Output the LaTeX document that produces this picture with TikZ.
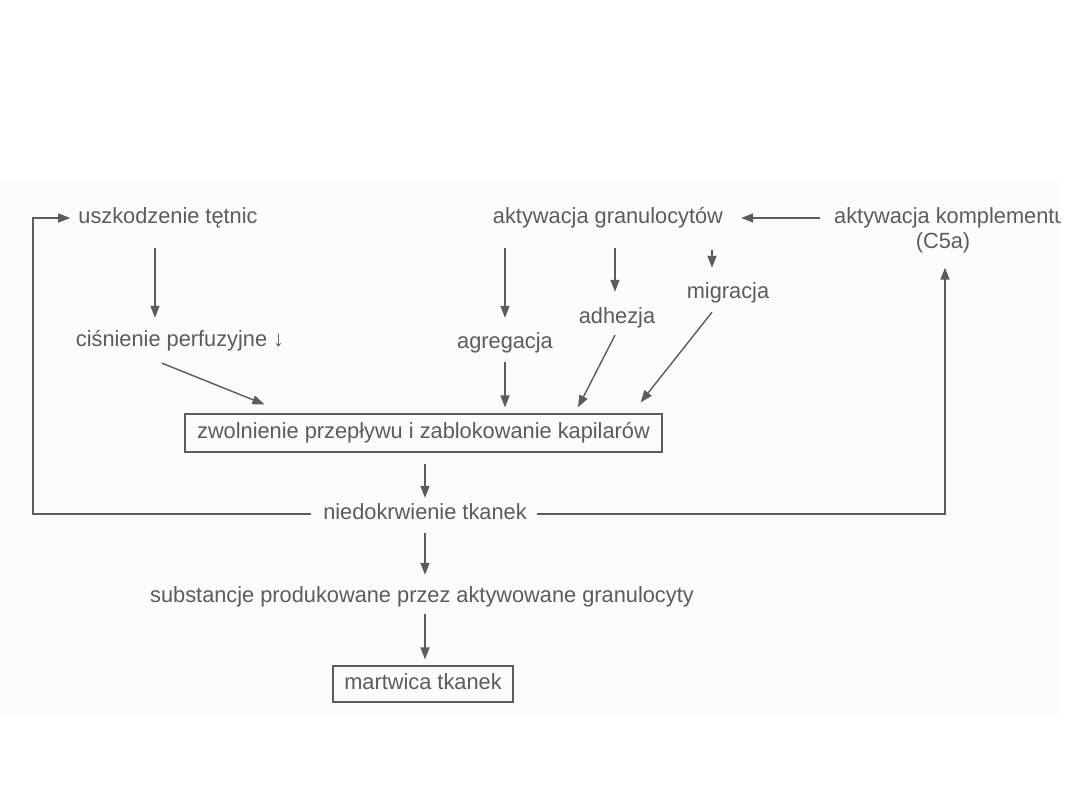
\documentclass[tikz,border=0pt]{standalone}
\usepackage{fontspec}
\setmainfont{Liberation Sans}[FakeStretch=0.99]
\usetikzlibrary{arrows.meta,calc}
\definecolor{ink}{HTML}{5C5C5C}
\definecolor{scan}{HTML}{FBFBFB}
\begin{document}
\begin{tikzpicture}[x=1pt,y=-1pt,
  lbl/.style={text=ink,font=\fontsize{22}{26}\selectfont,inner sep=2pt,text height=16pt,text depth=5pt},
  boxed/.style={lbl,draw=ink,line width=1.3pt},
  arr/.style={draw=ink,line width=1.4pt,-{Triangle[length=12pt,width=9pt]}},
  ln/.style={draw=ink,line width=1.4pt}]
\useasboundingbox (0,0) rectangle (1080,810);
\fill[scan] (0,180) rectangle (1060,715);
\begin{scope}
\clip (0,0) rectangle (1060,810);
\node[lbl,anchor=west] (akk) at (832,218) {aktywacja komplementu};
\end{scope}
\node[lbl] (usz) at (168,218) {uszkodzenie tętnic};
\node[lbl] (cis) at (180,341) {ciśnienie perfuzyjne ↓};
\node[lbl] (akg) at (608,218) {aktywacja granulocytów};
\node[lbl] (c5a) at (943,243) {(C5a)};
\node[lbl] (agr) at (505,343) {agregacja};
\node[lbl] (adh) at (617,318) {adhezja};
\node[lbl] (mig) at (728,293) {migracja};
\node[boxed,minimum width=477pt,minimum height=38pt] (zw) at (423.5,433) {zwolnienie przepływu i zablokowanie kapilarów};
\node[lbl] (nie) at (425,514) {niedokrwienie tkanek};
\node[lbl] (sub) at (422,597) {substancje produkowane przez aktywowane granulocyty};
\node[boxed,minimum width=180pt,minimum height=36pt] (mar) at (423,684) {martwica tkanek};
\coordinate (lc) at (33,218);
% loops
\draw[arr] ($(nie.west)+(-10,0)$) -| (lc) -- ($(usz.west)+(-6,0)$);
\draw[arr] ($(nie.east)+(8,0)$) -| ($(c5a.south)+(2,12)$);
\draw[arr] ($(akk.west)+(-12,0)$) -- ($(akg.east)+(16,0)$);
% left chain
\draw[arr] ($(usz.south)+(-13,17.5)$) -- ($(cis.north)+(-25,-10.5)$);
\draw[arr] ($(cis.south)+(-18,9.5)$) -- ($(zw.north west)+(80,-9)$);
% granulocyte branches
\draw[arr] ($(akg.south)+(-103,17.5)$) -- ($(agr.north)+(0,-12.5)$);
\draw[arr] ($(akg.south)+(7,17.5)$) -- ($(adh.north)+(-2,-13.5)$);
\draw[arr] ($(akg.south)+(104,19.5)$) -- ($(mig.north)+(-16,-12.5)$);
\draw[arr] ($(agr.south)+(0,6.5)$) -- ($(zw.north)+(81.5,-6)$);
\draw[arr] ($(adh.south)+(-2,4.5)$) -- ($(zw.north)+(154.5,-6)$);
\draw[arr] ($(mig.south)+(-16,6.5)$) -- ($(zw.north east)+(-22,-11)$);
% main chain
\draw[arr] ($(zw.south)+(1.5,11)$) -- ($(nie.north)+(0,-3.5)$);
\draw[arr] ($(nie.south)+(0,6.5)$) -- ($(sub.north)+(3,-9.5)$);
\draw[arr] ($(sub.south)+(3,4.5)$) -- ($(mar.north)+(2,-6)$);
\end{tikzpicture}
\end{document}
